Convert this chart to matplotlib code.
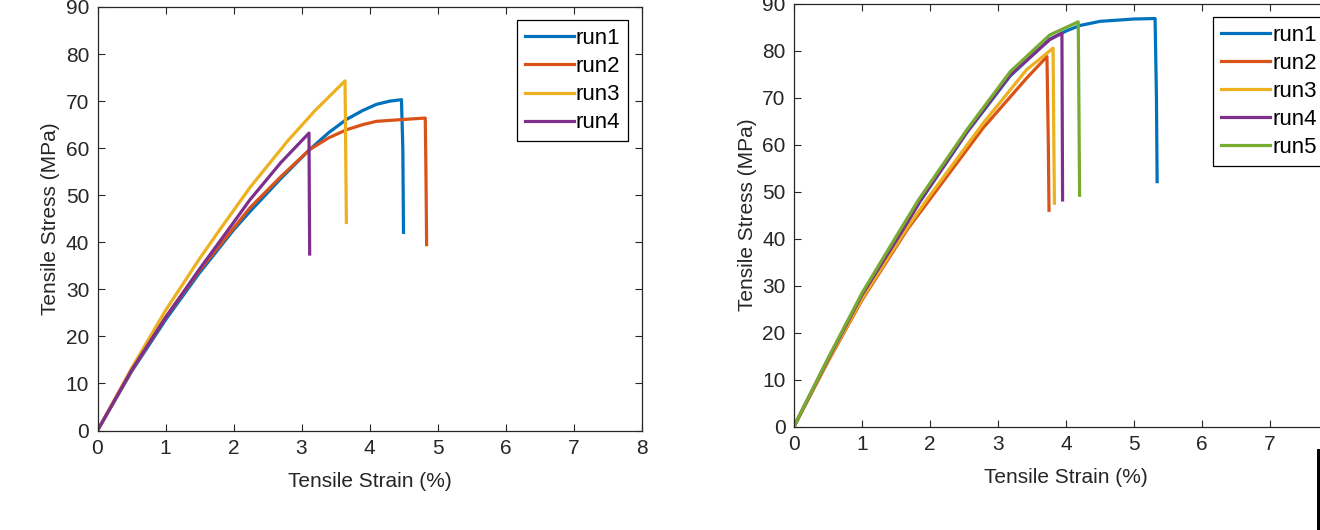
import matplotlib.pyplot as plt
from matplotlib.patches import Rectangle

# colours (MATLAB default order)
C = ["#0072BD", "#D95319", "#EDB120", "#7E2F8E", "#77AC30"]

# ---- left test set: strain (%) / stress (MPa) ----
l_run1_x = [0, 0.5, 1.0, 1.5, 2.0, 2.24, 2.7, 3.12, 3.4, 3.66, 3.9, 4.1, 4.3, 4.47, 4.49, 4.5]
l_run1_y = [0, 12.5, 23.5, 33.5, 42.6, 46.5, 53.6, 59.7, 63.3, 66.1, 68.0, 69.3, 70.0, 70.3, 60.0, 42.1]
l_run2_x = [0, 0.5, 1.0, 1.5, 2.0, 2.24, 2.7, 3.12, 3.4, 3.66, 3.9, 4.1, 4.5, 4.82, 4.83, 4.84]
l_run2_y = [0, 12.7, 24.0, 34.0, 43.0, 47.3, 54.0, 59.7, 62.2, 63.9, 65.0, 65.7, 66.1, 66.4, 55.0, 39.5]
l_run3_x = [0, 0.5, 1.0, 1.5, 1.8, 2.24, 2.8, 3.2, 3.64, 3.65, 3.66]
l_run3_y = [0, 13.2, 25.5, 36.5, 42.7, 51.6, 61.6, 68.0, 74.3, 60.0, 44.2]
l_run4_x = [0, 0.5, 1.0, 1.5, 1.92, 2.24, 2.7, 3.11, 3.115, 3.12]
l_run4_y = [0, 12.8, 24.0, 34.3, 42.6, 49.0, 57.0, 63.2, 50.0, 37.5]

# ---- right test set ----
r_run1_x = [0, 0.5, 1.0, 1.6, 1.85, 2.54, 3.18, 3.76, 4.01, 4.2, 4.5, 5.0, 5.31, 5.33, 5.34]
r_run1_y = [0, 14.3, 28.0, 41.8, 47.8, 62.5, 74.6, 82.4, 84.2, 85.3, 86.2, 86.7, 86.8, 70.0, 52.1]
r_run2_x = [0, 0.5, 1.0, 1.66, 1.97, 2.78, 3.42, 3.72, 3.74, 3.75]
r_run2_y = [0, 13.8, 26.9, 41.8, 47.8, 63.5, 74.1, 78.7, 60.0, 46.0]
r_run3_x = [0, 0.5, 1.0, 1.66, 1.95, 2.78, 3.42, 3.81, 3.82, 3.83]
r_run3_y = [0, 14.0, 27.2, 42.2, 48.2, 64.5, 75.9, 80.5, 62.0, 47.5]
r_run4_x = [0, 0.5, 1.0, 1.6, 1.85, 2.54, 3.18, 3.76, 3.94, 3.945, 3.95]
r_run4_y = [0, 14.3, 28.0, 41.8, 47.9, 62.6, 74.8, 82.3, 83.7, 65.0, 48.2]
r_run5_x = [0, 0.5, 1.0, 1.56, 1.83, 2.54, 3.18, 3.76, 4.18, 4.19, 4.2]
r_run5_y = [0, 14.5, 28.4, 41.8, 48.2, 63.1, 75.5, 83.3, 86.1, 68.0, 49.2]

left_runs = [(l_run1_x, l_run1_y), (l_run2_x, l_run2_y), (l_run3_x, l_run3_y), (l_run4_x, l_run4_y)]
right_runs = [(r_run1_x, r_run1_y), (r_run2_x, r_run2_y), (r_run3_x, r_run3_y),
              (r_run4_x, r_run4_y), (r_run5_x, r_run5_y)]

plt.rcParams["font.family"] = ["Liberation Sans", "DejaVu Sans"]
FS = 15
INK = "#262626"

W, H = 1320, 530
fig = plt.figure(figsize=(W / 100, H / 100), dpi=100)


def style_axes(ax):
    ax.set_xlim(0, 8)
    ax.set_ylim(0, 90)
    ax.set_xticks(range(0, 9))
    ax.set_yticks(range(0, 91, 10))
    ax.tick_params(direction="in", top=True, right=True, length=5, width=0.8,
                   labelsize=FS, colors=INK, pad=6)
    for sp in ax.spines.values():
        sp.set_linewidth(0.9)
        sp.set_color(INK)
    ax.set_xlabel("Tensile Strain (%)", fontsize=FS, color=INK, labelpad=10)
    ax.set_ylabel("Tensile Stress (MPa)", fontsize=FS, color=INK, labelpad=4)


def draw(ax, runs):
    for ii, (xs, ys) in enumerate(runs):
        ax.plot(xs, ys, color=C[ii], lw=2.3, label="run{:d}".format(ii + 1),
                solid_joinstyle="round")
    leg = ax.legend(loc="upper right", fontsize=FS + 1, handlelength=2.2,
                    handletextpad=0.1, labelspacing=0.32, borderpad=0.35,
                    borderaxespad=0.6, fancybox=False, framealpha=1)
    leg.get_frame().set_edgecolor("black")
    leg.get_frame().set_linewidth(0.9)


ax1 = fig.add_axes([97.5 / W, (H - 430.5) / H, 544 / W, 423.5 / H])
draw(ax1, left_runs)
style_axes(ax1)

# second figure is cut off at the right edge in the reference
ax2 = fig.add_axes([794 / W, (H - 426.5) / H, 544 / W, 423 / H])
draw(ax2, right_runs)
style_axes(ax2)

# black edge at the bottom right corner
fig.add_artist(Rectangle((1317 / W, 0), 4 / W, 81 / H, transform=fig.transFigure,
                         color="black", lw=0))

fig.savefig("out.png", dpi=100)
